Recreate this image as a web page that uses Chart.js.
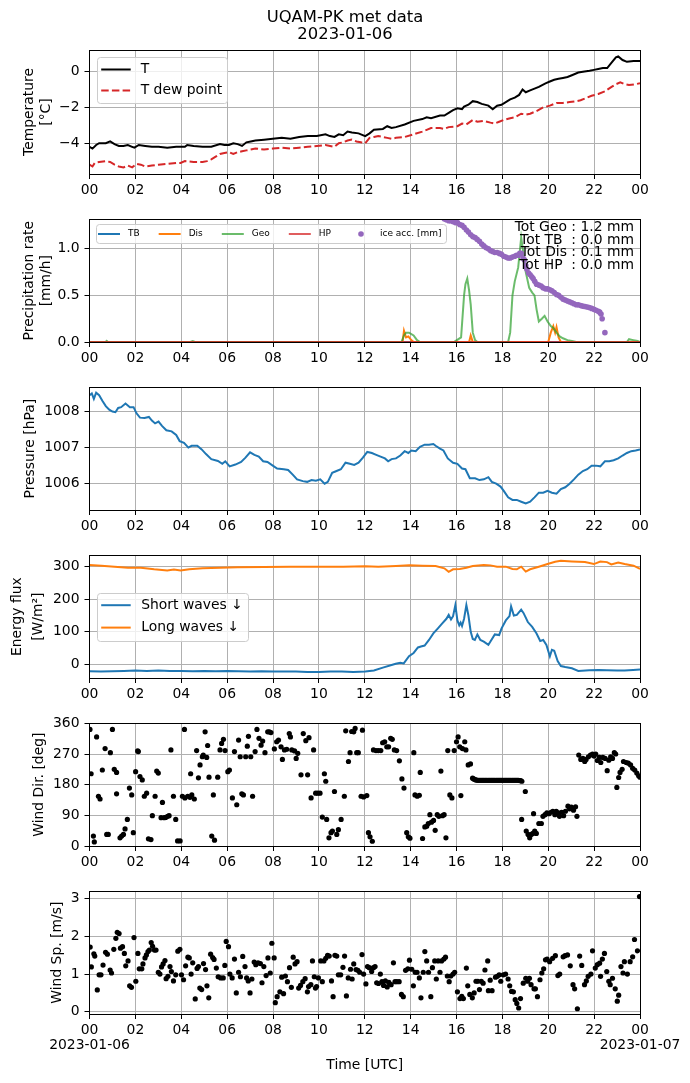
<!DOCTYPE html>
<html>
<head>
    <meta charset="utf-8">
    <title>UQAM-PK met data</title>
    <style>
        body {
            margin: 0;
            padding: 0;
            background-color: #ffffff;
        }

        #page {
            position: relative;
            width: 690px;
            height: 1083px;
        }

        #page canvas {
            position: absolute;
            left: 0;
        }
    </style>
    <script src="https://cdn.jsdelivr.net/npm/chart.js"></script>
</head>
<body>
<div id="page">
    <canvas id="cTemp"></canvas>
    <canvas id="cPrec"></canvas>
    <canvas id="cPres"></canvas>
    <canvas id="cFlux"></canvas>
    <canvas id="cDir"></canvas>
    <canvas id="cSpd"></canvas>
</div>
<script>
// ---- data: [hour UTC, value] ----
const tempPts = [[0,-4.2],[0.13,-4.3],[0.29,-4.1],[0.42,-4.0],[0.71,-4.0],[0.9,-3.9],[1.09,-4.05],[1.28,-4.15],[1.48,-4.15],[1.67,-4.1],[1.86,-4.2],[1.96,-4.25],[2.15,-4.1],[2.43,-4.15],[2.72,-4.2],[3.01,-4.2],[3.39,-4.25],[3.78,-4.2],[4.16,-4.2],[4.26,-4.1],[4.54,-4.15],[4.93,-4.2],[5.31,-4.2],[5.69,-4.05],[5.88,-4.1],[6.08,-4.1],[6.27,-4.0],[6.46,-4.05],[6.65,-4.15],[6.84,-3.95],[7.03,-3.9],[7.23,-3.85],[7.61,-3.8],[7.99,-3.75],[8.38,-3.7],[8.76,-3.75],[9.14,-3.65],[9.52,-3.6],[9.91,-3.6],[10.29,-3.5],[10.48,-3.6],[10.68,-3.65],[10.87,-3.5],[11.06,-3.55],[11.25,-3.35],[11.44,-3.4],[11.73,-3.45],[12.02,-3.6],[12.21,-3.45],[12.4,-3.25],[12.79,-3.2],[12.98,-3.05],[13.17,-3.15],[13.36,-3.1],[13.74,-2.95],[14.13,-2.75],[14.51,-2.65],[14.7,-2.55],[14.89,-2.6],[15.28,-2.45],[15.47,-2.45],[15.66,-2.3],[15.85,-2.15],[16.04,-2.05],[16.24,-2.1],[16.33,-1.95],[16.52,-1.85],[16.71,-1.65],[16.91,-1.7],[17.1,-1.8],[17.39,-1.9],[17.58,-2.1],[17.77,-1.9],[17.96,-1.85],[18.15,-1.7],[18.34,-1.55],[18.54,-1.45],[18.73,-1.3],[18.88,-1.0],[19.02,-1.15],[19.21,-1.05],[19.4,-0.95],[19.59,-0.85],[19.88,-0.65],[20.07,-0.55],[20.26,-0.45],[20.45,-0.4],[20.64,-0.35],[20.84,-0.3],[21.03,-0.2],[21.31,-0.05],[21.51,0.0],[21.8,0.05],[21.99,0.1],[22.18,0.15],[22.38,0.2],[22.57,0.2],[22.76,0.5],[22.95,0.8],[23.05,0.85],[23.24,0.65],[23.43,0.55],[23.72,0.6],[24,0.6]];
const dewPts = [[0,-5.2],[0.13,-5.3],[0.23,-5.1],[0.42,-5.05],[0.71,-5.0],[0.9,-5.05],[1.09,-5.2],[1.28,-5.3],[1.48,-5.35],[1.67,-5.25],[1.86,-5.35],[2.05,-5.15],[2.24,-5.2],[2.43,-5.3],[2.72,-5.25],[3.01,-5.2],[3.39,-5.15],[3.78,-5.1],[3.97,-5.1],[4.16,-5.0],[4.54,-5.05],[4.93,-5.05],[5.12,-5.0],[5.31,-4.9],[5.5,-4.75],[5.69,-4.6],[5.88,-4.55],[6.08,-4.5],[6.27,-4.6],[6.46,-4.5],[6.65,-4.45],[6.84,-4.4],[7.03,-4.35],[7.23,-4.3],[7.61,-4.35],[7.99,-4.3],[8.38,-4.25],[8.76,-4.3],[9.14,-4.25],[9.52,-4.2],[9.91,-4.15],[10.29,-4.1],[10.68,-4.2],[10.87,-4.0],[11.06,-3.95],[11.25,-3.85],[11.44,-3.8],[11.64,-3.9],[11.83,-3.95],[12.02,-4.0],[12.21,-3.7],[12.4,-3.65],[12.59,-3.6],[12.98,-3.7],[13.17,-3.75],[13.36,-3.7],[13.74,-3.65],[14.13,-3.5],[14.51,-3.35],[14.7,-3.25],[14.89,-3.15],[15.28,-3.15],[15.47,-3.2],[15.66,-3.1],[16.04,-3.05],[16.24,-2.9],[16.43,-2.95],[16.71,-2.7],[16.91,-2.8],[17.19,-2.75],[17.48,-2.85],[17.67,-2.9],[17.86,-2.8],[18.06,-2.7],[18.34,-2.6],[18.54,-2.55],[18.82,-2.35],[19.02,-2.4],[19.21,-2.35],[19.49,-2.2],[19.78,-2.0],[20.07,-1.9],[20.36,-1.75],[20.64,-1.75],[20.93,-1.7],[21.22,-1.65],[21.41,-1.6],[21.7,-1.45],[21.89,-1.35],[22.18,-1.25],[22.47,-1.1],[22.76,-0.85],[22.95,-0.7],[23.14,-0.6],[23.33,-0.7],[23.52,-0.75],[23.81,-0.7],[24,-0.65]];

const tbPts = [[0,0],[24,0]];
const disPts = [[0,0],[13.65,0],[13.71,0.12],[13.8,0.05],[13.9,0.06],[14.03,0.02],[14.13,0],[16.55,0],[16.62,0.07],[16.71,0],[20.0,0],[20.11,0.1],[20.22,0.17],[20.3,0.1],[20.36,0.16],[20.45,0.05],[20.55,0],[24,0]];
const geoPts = [[0,0],[0.7,0],[0.75,0.012],[0.8,0],[4.4,0],[4.5,0.01],[4.6,0],[13.6,0],[13.71,0.07],[13.8,0.1],[13.93,0.1],[14.13,0.07],[14.28,0.02],[14.41,0],[15.9,0],[15.95,0.01],[16.2,0.05],[16.33,0.5],[16.39,0.62],[16.47,0.68],[16.55,0.55],[16.62,0.4],[16.71,0.1],[16.81,0.02],[16.91,0],[18.25,0],[18.34,0.1],[18.44,0.5],[18.54,0.65],[18.69,0.8],[18.82,1.12],[18.92,0.95],[19.02,0.75],[19.17,0.58],[19.3,0.53],[19.4,0.5],[19.49,0.35],[19.59,0.22],[19.72,0.25],[19.84,0.28],[19.97,0.22],[20.11,0.17],[20.22,0.15],[20.36,0.1],[20.5,0.06],[20.64,0.04],[20.84,0.02],[21.03,0.01],[21.22,0],[23.43,0],[23.52,0.03],[23.62,0.025],[23.71,0.02],[23.9,0.01],[24,0]];
const hpPts = [[0,0],[24,0]];
const icePts = [[15.4,1.34],[15.47,1.32],[15.56,1.31],[15.66,1.3],[15.75,1.3],[15.85,1.29],[15.95,1.28],[16.04,1.28],[16.14,1.26],[16.24,1.25],[16.33,1.23],[16.43,1.2],[16.52,1.18],[16.62,1.15],[16.71,1.13],[16.81,1.12],[16.9,1.1],[17.0,1.08],[17.1,1.05],[17.19,1.03],[17.29,1.01],[17.39,1.0],[17.48,0.98],[17.58,0.97],[17.67,0.96],[17.77,0.96],[17.87,0.95],[17.96,0.94],[18.06,0.92],[18.15,0.91],[18.25,0.9],[18.34,0.9],[18.44,0.91],[18.54,0.92],[18.62,0.93],[18.69,0.93],[18.76,0.95],[18.82,0.95],[18.9,0.9],[18.96,0.88],[19.02,0.82],[19.07,0.78],[19.14,0.74],[19.21,0.72],[19.28,0.7],[19.34,0.68],[19.41,0.65],[19.49,0.62],[19.59,0.61],[19.69,0.6],[19.78,0.58],[19.88,0.57],[19.97,0.57],[20.07,0.56],[20.16,0.55],[20.26,0.53],[20.36,0.51],[20.45,0.5],[20.55,0.48],[20.64,0.46],[20.74,0.45],[20.84,0.44],[20.93,0.43],[21.03,0.42],[21.12,0.41],[21.22,0.4],[21.31,0.4],[21.41,0.39],[21.5,0.385],[21.6,0.38],[21.7,0.375],[21.79,0.37],[21.89,0.36],[21.99,0.35],[22.08,0.34],[22.18,0.33],[22.24,0.32],[22.3,0.3],[22.35,0.25],[22.47,0.1]];
const totNames = ['Geo', 'TB ', 'Dis', 'HP '];
const totVals = [1.2, 0.0, 0.1, 0.0];

const presPts = [[0,1008.45],[0.1,1008.5],[0.19,1008.35],[0.29,1008.52],[0.42,1008.45],[0.56,1008.3],[0.71,1008.15],[0.86,1008.05],[1.0,1008.0],[1.13,1007.98],[1.25,1008.1],[1.38,1008.12],[1.57,1008.22],[1.76,1008.12],[1.92,1008.12],[2.05,1007.95],[2.2,1007.83],[2.4,1007.82],[2.59,1007.85],[2.72,1007.75],[2.86,1007.67],[3.01,1007.72],[3.16,1007.6],[3.35,1007.48],[3.58,1007.45],[3.78,1007.35],[3.93,1007.18],[4.12,1007.13],[4.31,1007.0],[4.45,1007.05],[4.7,1007.05],[4.89,1006.95],[5.08,1006.82],[5.31,1006.68],[5.6,1006.63],[5.79,1006.55],[5.92,1006.62],[6.11,1006.48],[6.36,1006.53],[6.61,1006.6],[6.8,1006.72],[7.0,1006.87],[7.19,1006.8],[7.38,1006.75],[7.57,1006.62],[7.76,1006.6],[7.99,1006.5],[8.18,1006.42],[8.47,1006.4],[8.66,1006.38],[8.86,1006.25],[9.05,1006.12],[9.3,1006.07],[9.49,1006.05],[9.68,1006.1],[9.87,1006.08],[10.06,1006.12],[10.25,1006.0],[10.39,1006.05],[10.58,1006.3],[10.77,1006.35],[10.96,1006.4],[11.16,1006.58],[11.35,1006.55],[11.54,1006.52],[11.73,1006.58],[11.92,1006.72],[12.11,1006.88],[12.31,1006.85],[12.5,1006.8],[12.69,1006.75],[12.88,1006.7],[13.02,1006.62],[13.17,1006.68],[13.36,1006.7],[13.55,1006.78],[13.74,1006.9],[13.9,1006.85],[14.03,1006.92],[14.22,1006.9],[14.41,1007.02],[14.61,1007.08],[14.8,1007.08],[14.99,1007.1],[15.09,1007.05],[15.28,1006.97],[15.43,1006.92],[15.62,1006.7],[15.85,1006.58],[16.04,1006.55],[16.24,1006.42],[16.39,1006.4],[16.58,1006.15],[16.81,1006.15],[17.0,1006.1],[17.19,1006.12],[17.39,1006.18],[17.54,1006.05],[17.73,1006.0],[17.92,1005.92],[18.06,1005.8],[18.25,1005.62],[18.44,1005.55],[18.63,1005.55],[18.82,1005.5],[19.02,1005.45],[19.21,1005.5],[19.4,1005.62],[19.59,1005.75],[19.78,1005.75],[19.97,1005.8],[20.16,1005.75],[20.36,1005.72],[20.55,1005.85],[20.74,1005.9],[20.93,1006.0],[21.12,1006.12],[21.31,1006.25],[21.51,1006.35],[21.7,1006.4],[21.89,1006.5],[22.08,1006.5],[22.27,1006.48],[22.47,1006.62],[22.66,1006.62],[22.85,1006.65],[23.05,1006.7],[23.24,1006.78],[23.43,1006.85],[23.62,1006.9],[23.81,1006.92],[24,1006.95]];

const swPts = [[0,-21],[0.5,-22],[1.0,-21],[1.5,-20],[2.0,-19],[2.5,-20],[3.0,-19],[3.5,-20],[4.0,-20],[4.5,-21],[5.0,-20],[5.5,-21],[6.0,-20],[6.5,-21],[7.0,-22],[7.5,-21],[8.0,-22],[8.5,-22],[9.0,-22],[9.5,-23],[10.0,-23],[10.5,-22],[11.0,-22],[11.5,-23],[12.02,-22],[12.4,-19],[12.79,-10],[13.17,-2],[13.35,2],[13.55,5],[13.7,3],[13.93,25],[14.13,35],[14.32,52],[14.45,55],[14.61,58],[14.8,75],[14.99,95],[15.18,110],[15.37,125],[15.56,140],[15.66,152],[15.76,138],[15.85,148],[15.95,182],[16.04,135],[16.12,120],[16.18,128],[16.24,118],[16.33,140],[16.43,182],[16.52,150],[16.62,100],[16.71,78],[16.8,75],[16.91,92],[17.04,75],[17.19,70],[17.39,60],[17.48,70],[17.67,92],[17.86,90],[17.96,110],[18.15,135],[18.31,148],[18.38,178],[18.5,150],[18.63,152],[18.82,168],[18.92,158],[19.11,130],[19.3,115],[19.49,95],[19.65,72],[19.78,75],[19.92,60],[20.07,25],[20.16,45],[20.26,42],[20.41,10],[20.55,-5],[20.74,-8],[21.03,-12],[21.31,-20],[21.79,-18],[22.2,-17],[22.56,-18],[23.0,-19],[23.33,-19],[23.7,-17],[24,-16]];
const lwPts = [[0,305],[0.52,303],[1.09,300],[1.67,297],[2.24,297],[2.82,292],[3.39,288],[3.68,291],[3.97,288],[4.35,292],[4.93,295],[5.69,297],[6.46,298],[7.61,299],[8.76,300],[9.91,300],[11.06,300],[12.02,301],[12.59,300],[13.36,302],[13.94,304],[14.51,303],[15.09,302],[15.47,295],[15.66,284],[15.85,292],[16.14,293],[16.43,297],[16.71,302],[17.19,305],[17.48,304],[17.77,300],[18.15,300],[18.44,293],[18.63,292],[18.82,300],[19.02,285],[19.21,292],[19.59,300],[19.97,308],[20.3,315],[20.55,318],[21.03,316],[21.6,314],[21.99,308],[22.27,316],[22.56,314],[22.75,307],[23.05,313],[23.33,308],[23.72,303],[24,293]];

const wdirPts = [[0.02,342],[0.07,212],[0.17,29],[0.21,12],[0.31,320],[0.39,146],[0.46,138],[0.56,223],[0.68,286],[0.75,34],[0.82,34],[0.91,274],[1.0,342],[1.08,225],[1.18,216],[1.18,153],[1.33,24],[1.4,29],[1.48,34],[1.55,50],[1.65,78],[1.74,170],[1.84,150],[1.91,39],[2.01,218],[2.1,279],[2.13,277],[2.2,204],[2.3,194],[2.39,146],[2.49,155],[2.57,21],[2.68,19],[2.74,89],[2.86,146],[2.93,220],[3.0,214],[3.12,83],[3.18,128],[3.26,83],[3.32,84],[3.41,87],[3.47,89],[3.55,282],[3.66,146],[3.76,78],[3.84,15],[3.95,15],
    [4.05,146],[4.14,342],[4.16,141],[4.28,146],[4.38,143],[4.41,212],[4.46,150],[4.57,138],[4.67,280],[4.75,200],[4.82,238],[4.92,262],[4.96,267],[5.04,335],[5.11,260],[5.15,295],[5.21,202],[5.33,29],[5.4,150],[5.45,17],[5.59,202],[5.69,282],[5.76,301],[5.84,313],[5.91,280],
    [6.03,218],[6.1,223],[6.23,141],[6.32,277],[6.42,121],[6.5,311],[6.57,262],[6.64,153],[6.71,150],[6.81,262],[6.88,293],[6.93,322],[7.03,262],[7.11,146],[7.22,277],[7.3,342],[7.39,316],[7.48,296],[7.55,308],[7.65,274],[7.77,335],[7.84,335],[7.91,333],
    [8.06,285],[8.16,306],[8.24,311],[8.35,291],[8.41,254],[8.5,282],[8.6,284],[8.71,330],[8.76,320],[8.82,282],[8.94,279],[9.01,257],[9.08,272],[9.22,209],[9.32,330],[9.43,309],[9.51,209],[9.57,318],[9.66,141],[9.77,282],[9.86,155],[9.95,155],
    [10.05,155],[10.15,85],[10.24,212],[10.3,190],[10.34,78],[10.44,24],[10.53,39],[10.59,44],[10.68,160],[10.78,34],[10.85,48],[10.97,78],[11.11,146],[11.17,338],[11.29,248],[11.36,274],[11.43,336],[11.52,335],[11.58,345],[11.65,274],[11.72,274],[11.84,146],[11.9,340],[11.95,144],
    [12.09,148],[12.16,39],[12.23,27],[12.33,14],[12.38,282],[12.49,280],[12.59,280],[12.7,280],[12.78,303],[12.87,306],[12.96,291],[13.04,291],[13.13,316],[13.2,313],[13.29,282],[13.39,280],[13.51,250],[13.62,197],[13.71,170],[13.83,39],[13.9,27],[13.97,23],
    [14.14,274],[14.19,150],[14.29,146],[14.38,149],[14.42,216],[14.52,22],[14.62,56],[14.7,58],[14.77,66],[14.84,92],[14.91,70],[15.0,75],[15.07,46],[15.16,92],[15.23,87],[15.32,220],[15.39,89],[15.46,92],[15.54,24],[15.62,280],[15.71,150],[15.8,141],[15.9,280],
    [16.0,306],[16.07,320],[16.14,291],[16.19,148],[16.26,286],[16.36,306],[16.41,282],[16.51,238],[16.61,241],[16.7,199],
    [16.75,197],[16.8,195],[16.85,194],[16.9,193],[16.95,193],[17.0,193],[17.05,193],[17.1,193],[17.15,193],[17.2,193],[17.25,193],[17.3,193],[17.35,193],[17.4,193],[17.45,193],[17.5,193],[17.55,193],[17.6,193],[17.65,193],[17.7,193],[17.75,193],[17.8,193],[17.85,193],[17.9,193],[17.95,193],[18.0,193],[18.05,193],[18.1,193],[18.15,193],[18.2,193],[18.25,193],[18.3,193],[18.35,193],[18.4,193],[18.45,193],[18.5,193],[18.55,193],[18.6,193],[18.65,193],[18.7,193],[18.75,192],[18.8,192],[18.85,190],
    [18.84,78],[19.0,160],[19.04,44],[19.12,34],[19.19,24],[19.26,34],[19.33,37],[19.36,95],[19.41,44],[19.48,37],[19.59,66],[19.7,66],[19.77,87],[19.86,92],[19.94,97],[20.03,95],[20.12,99],[20.2,102],[20.29,92],[20.35,102],[20.43,97],[20.49,87],[20.58,99],[20.67,89],[20.75,102],[20.86,117],[20.93,109],[21.01,114],[21.1,105],[21.19,115],[21.25,87],
    [21.33,267],[21.42,254],[21.51,257],[21.59,248],[21.65,254],[21.75,262],[21.84,267],[21.93,270],[22.0,264],[22.07,270],[22.14,251],[22.23,260],[22.29,245],[22.38,260],[22.48,257],[22.57,221],[22.64,252],[22.72,262],[22.8,257],[22.88,274],[22.94,270],[22.99,172],[23.07,201],[23.13,216],[23.22,225],[23.28,248],[23.4,245],[23.49,243],[23.59,238],[23.68,228],[23.77,223],[23.86,214],[23.94,206],[24.0,202]];

const wspdPts = [[0.03,1.72],[0.08,1.19],[0.19,1.54],[0.23,1.48],[0.34,0.58],[0.42,0.98],[0.5,0.98],[0.59,1.24],[0.7,1.58],[0.78,1.53],[0.9,1.11],[0.96,1.03],[1.06,1.66],[1.15,1.95],[1.21,2.11],[1.29,2.08],[1.35,1.69],[1.44,1.73],[1.52,1.55],[1.58,1.22],[1.68,1.35],[1.75,0.69],[1.83,0.65],[1.94,1.97],
    [2.02,0.81],[2.11,1.55],[2.17,1.14],[2.28,1.14],[2.33,1.27],[2.42,1.43],[2.48,1.51],[2.55,1.6],[2.61,1.64],[2.69,1.84],[2.75,1.74],[2.83,1.64],[2.9,1.64],[3.0,1.05],[3.07,1.0],[3.14,1.19],[3.21,1.27],[3.29,1.36],[3.34,0.88],[3.42,0.94],[3.51,1.2],[3.57,1.07],[3.66,0.82],[3.76,0.98],[3.85,1.61],[3.94,1.66],
    [4.01,0.98],[4.1,0.85],[4.19,1.22],[4.29,1.45],[4.35,1.43],[4.43,1.0],[4.5,1.3],[4.61,0.34],[4.69,1.15],[4.75,1.2],[4.81,0.63],[4.89,0.59],[4.97,1.28],[5.06,1.12],[5.12,0.69],[5.2,0.37],[5.28,1.53],[5.37,1.44],[5.43,1.39],[5.53,1.16],[5.61,0.93],[5.72,0.9],[5.83,0.9],[5.9,1.23],
    [5.96,1.87],[6.06,1.73],[6.12,1.0],[6.22,0.9],[6.32,1.4],[6.4,0.5],[6.5,1.05],[6.58,0.93],[6.68,1.47],[6.78,1.2],[6.85,0.9],[6.92,0.82],[7.0,0.5],[7.08,0.87],[7.18,1.32],[7.25,1.25],[7.35,1.3],[7.45,1.28],[7.52,0.77],[7.6,1.2],[7.7,0.96],[7.78,1.43],[7.88,1.03],[7.95,1.82],
    [8.05,1.43],[8.1,0.24],[8.18,0.4],[8.3,0.53],[8.38,0.92],[8.46,0.48],[8.54,0.95],[8.63,0.8],[8.72,1.17],[8.8,0.65],[8.88,1.45],[8.96,1.27],[9.05,1.33],[9.12,0.63],[9.2,0.7],[9.3,0.8],[9.4,0.88],[9.5,0.53],[9.55,0.67],[9.65,0.72],[9.72,1.35],[9.8,0.93],[9.85,0.63],[9.9,0.67],[9.98,0.9],
    [10.08,1.35],[10.15,0.8],[10.22,1.35],[10.3,1.42],[10.38,1.5],[10.45,1.48],[10.55,0.82],[10.62,0.4],[10.7,1.5],[10.78,1.48],[10.85,0.98],[10.95,0.98],[11.05,1.18],[11.12,1.48],[11.2,0.42],[11.28,0.9],[11.38,1.13],[11.45,0.87],[11.52,1.27],[11.62,1.12],[11.7,1.1],[11.78,1.05],[11.88,1.52],[11.95,1.0],
    [12.05,0.74],[12.12,1.2],[12.2,1.17],[12.3,1.07],[12.38,1.17],[12.45,1.2],[12.52,0.77],[12.6,0.75],[12.68,1.0],[12.75,0.8],[12.82,0.7],[12.9,0.82],[12.98,0.66],[13.05,0.78],[13.15,0.72],[13.25,1.3],[13.32,0.8],[13.4,0.8],[13.5,0.8],[13.6,0.46],[13.68,0.4],[13.78,1.1],[13.88,1.14],[13.95,1.37],
    [14.05,1.13],[14.12,0.69],[14.2,1.05],[14.28,1.05],[14.38,0.9],[14.45,0.37],[14.55,1.05],[14.62,1.6],[14.7,1.35],[14.78,1.05],[14.88,0.4],[14.95,1.17],[15.05,1.35],[15.12,0.87],[15.2,1.35],[15.28,1.05],[15.35,1.35],[15.45,1.4],[15.52,1.45],[15.6,0.95],[15.68,0.8],[15.75,0.95],[15.85,1.0],[15.92,1.05],
    [16.04,0.53],[16.15,0.35],[16.23,0.41],[16.3,0.35],[16.43,1.16],[16.49,0.69],[16.58,0.46],[16.69,0.37],[16.77,0.5],[16.85,0.81],[16.93,0.81],[17.0,0.59],[17.08,0.81],[17.16,0.76],[17.24,1.11],[17.36,1.35],[17.39,0.56],[17.47,0.84],[17.55,0.56],[17.7,0.92],[17.78,0.94],[17.86,0.98],[17.93,0.81],
    [18.04,0.98],[18.14,1.0],[18.25,0.87],[18.32,0.69],[18.4,0.54],[18.48,0.53],[18.56,0.32],[18.63,0.22],[18.71,0.1],[18.79,0.35],[18.91,0.76],[19.02,0.89],[19.1,0.81],[19.18,0.89],[19.25,0.72],[19.38,0.61],[19.44,0.61],[19.53,0.4],[19.64,0.85],[19.72,1.03],[19.8,1.14],[19.88,1.38],[19.95,1.4],
    [20.06,1.33],[20.19,1.42],[20.31,1.49],[20.42,0.96],[20.5,1.0],[20.65,1.46],[20.73,1.49],[20.84,1.51],[20.96,1.22],[21.08,0.72],[21.15,0.61],[21.27,0.08],[21.37,1.48],[21.46,1.23],[21.58,0.72],[21.66,0.82],[21.74,0.94],[21.86,1.0],[21.93,1.62],
    [22.05,1.16],[22.14,1.25],[22.24,1.29],[22.28,0.94],[22.36,1.4],[22.45,1.55],[22.55,1.07],[22.64,0.81],[22.7,0.72],[22.8,0.89],[22.92,0.61],[23.01,0.28],[23.07,0.44],[23.17,1.2],[23.26,1.03],[23.32,1.33],[23.45,1.0],[23.57,1.33],[23.68,1.46],[23.76,1.92],[23.89,1.62],[23.98,3.06]];

// ---- tick values / labels ----
const hourTicks = [0, 2, 4, 6, 8, 10, 12, 14, 16, 18, 20, 22, 24];
const dateLabels = ['2023-01-06', '2023-01-07'];
const tempTicks = [-4, -2, 0];
const precTicks = [0, 0.5, 1.0];
const presTicks = [1006, 1007, 1008];
const fluxTicks = [0, 100, 200, 300];
const dirTicks = [0, 90, 180, 270, 360];
const spdTicks = [0, 1, 2, 3];

const FONT = 'DejaVu Sans';
Chart.defaults.font.family = FONT;
Chart.defaults.font.size = 13.9;
Chart.defaults.color = '#000000';

const PLOT_H = 124;
const GRID = '#b0b0b0';

const xy = pts => pts.map(p => ({x: p[0], y: p[1]}));
const hh = v => String(v % 24).padStart(2, '0');
const minus = v => String(v).replace('-', '\u2212');
const crisp = p => Math.round(p - 0.5) + 0.5;

function boxPath(ctx, x, y, w, h, r) {
    ctx.beginPath();
    ctx.moveTo(x + r, y);
    ctx.arcTo(x + w, y, x + w, y + h, r);
    ctx.arcTo(x + w, y + h, x, y + h, r);
    ctx.arcTo(x, y + h, x, y, r);
    ctx.arcTo(x, y, x + w, y, r);
    ctx.closePath();
}

// black frame on all four sides of the axes
const frame = {
    id: 'frame',
    afterDatasetsDraw(chart) {
        const {ctx, chartArea: a} = chart;
        const l = crisp(a.left), r = crisp(a.right), t = crisp(a.top), b = crisp(a.bottom);
        ctx.save();
        ctx.strokeStyle = '#000000';
        ctx.lineWidth = 1;
        ctx.strokeRect(l, t, r - l, b - t);
        ctx.restore();
    }
};

// matplotlib-like legend box inside the axes
const mplLegend = {
    id: 'mplLegend',
    afterDraw(chart, args, o) {
        if (!o || !o.show) return;
        const {ctx, chartArea: a} = chart;
        const ds = chart.data.datasets;
        ctx.save();
        ctx.font = o.size + 'px "' + FONT + '"';
        const widths = ds.map(d => ctx.measureText(d.label).width);
        const x0 = crisp(a.left + o.dx), y0 = crisp(a.top + o.dy);
        let w, h;
        if (o.row) {
            w = o.padL + o.padR;
            ds.forEach((d, i) => { w += o.handle + o.gap + widths[i] + (i < ds.length - 1 ? o.colGap : 0); });
            h = o.padT + o.padB;
        } else {
            w = o.padL + o.handle + o.gap + Math.max(...widths) + o.padR;
            h = o.padT + o.rowH * (ds.length - 1) + o.padB;
        }
        boxPath(ctx, x0, y0, Math.round(w), Math.round(h), 3);
        ctx.fillStyle = 'rgba(255,255,255,0.8)';
        ctx.fill();
        ctx.strokeStyle = '#cccccc';
        ctx.lineWidth = 1;
        ctx.stroke();

        let cx = x0 + o.padL, cy = y0 + o.padT;
        ds.forEach((d, i) => {
            if (d.showLine === false) {
                ctx.fillStyle = d.pointBackgroundColor;
                ctx.beginPath();
                ctx.arc(cx + o.handle / 2, cy, d.pointRadius, 0, Math.PI * 2);
                ctx.fill();
            } else {
                ctx.strokeStyle = d.borderColor;
                ctx.lineWidth = d.borderWidth;
                ctx.setLineDash(d.borderDash || []);
                ctx.beginPath();
                ctx.moveTo(cx, cy);
                ctx.lineTo(cx + o.handle, cy);
                ctx.stroke();
                ctx.setLineDash([]);
            }
            ctx.fillStyle = '#000000';
            ctx.textAlign = 'left';
            ctx.textBaseline = 'middle';
            ctx.fillText(d.label, cx + o.handle + o.gap, cy);
            if (o.row) cx += o.handle + o.gap + widths[i] + o.colGap;
            else cy += o.rowH;
        });
        ctx.restore();
    }
};

// free text (figure title, totals)
const notes = {
    id: 'notes',
    afterDraw(chart, args, o) {
        if (!o || !o.items) return;
        const {ctx, chartArea: a} = chart;
        ctx.save();
        ctx.fillStyle = '#000000';
        ctx.textBaseline = 'middle';
        o.items.forEach(n => {
            ctx.font = n.size + 'px "' + FONT + '"';
            ctx.textAlign = n.align;
            const x = n.rel ? a.right + n.x : n.x;
            const y = n.rel ? a.top + n.y : n.y;
            ctx.fillText(n.text, x, y);
        });
        ctx.restore();
    }
};

function xScale(bottomSpace, last) {
    return {
        type: 'linear',
        min: 0,
        max: 24,
        afterBuildTicks: s => { s.ticks = hourTicks.map(v => ({value: v})); },
        afterFit: s => { s.height = bottomSpace; },
        ticks: {
            autoSkip: false,
            maxRotation: 0,
            padding: 3.4,
            font: {size: 13.9, lineHeight: 1.1},
            callback: v => {
                if (last && v === 0) return [hh(v), dateLabels[0]];
                if (last && v === 24) return [hh(v), dateLabels[1]];
                return hh(v);
            }
        },
        grid: {color: GRID, lineWidth: 1, tickColor: '#000000', tickLength: 5, tickWidth: 1},
        border: {display: false},
        title: last ? {display: true, text: 'Time [UTC]', font: {size: 13.9, lineHeight: 1.2}, padding: {top: 0, bottom: 9.7}} : {display: false}
    };
}

function yScale(min, max, ticks, fmt, title, lh, padTop) {
    return {
        type: 'linear',
        min: min,
        max: max,
        afterBuildTicks: s => { s.ticks = ticks.map(v => ({value: v})); },
        afterFit: s => { s.width = 89.5; },
        ticks: {padding: 5, callback: fmt},
        grid: {color: GRID, lineWidth: 1, tickColor: '#000000', tickLength: 5, tickWidth: 1},
        border: {display: false},
        title: {display: true, text: title, font: {size: 13.9, lineHeight: lh}, padding: {top: padTop, bottom: 0}}
    };
}

function panel(id, type, plotTop, padTop, bottomSpace, datasets, y, plugins, last) {
    const cv = document.getElementById(id);
    cv.width = 690;
    cv.height = padTop + PLOT_H + bottomSpace;
    cv.style.top = (plotTop - padTop) + 'px';
    return new Chart(cv, {
        type: type,
        data: {datasets: datasets},
        options: {
            responsive: false,
            animation: false,
            layout: {padding: {left: 0, right: 50, top: padTop, bottom: 0}},
            scales: {x: xScale(bottomSpace, last), y: y},
            plugins: Object.assign({legend: {display: false}, tooltip: {enabled: false}}, plugins)
        },
        plugins: [frame, mplLegend, notes]
    });
}

const line = (label, pts, color, extra) => Object.assign({
    label: label, data: xy(pts), borderColor: color, backgroundColor: color,
    borderWidth: 2, pointRadius: 0, fill: false, tension: 0
}, extra || {});

// 1 temperature
panel('cTemp', 'line', 50, 50, 36, [
    line('T', tempPts, '#000000', {order: 1}),
    line('T dew point', dewPts, '#d62728', {borderDash: [7.5, 3.2], order: 0})
], yScale(-5.72, 1.21, tempTicks, v => minus(v), ['Temperature', '[°C]'], 1.2, 21.2), {
    mplLegend: {show: true, dx: 7.8, dy: 7.3, size: 13.9, handle: 29.5, gap: 10, rowH: 21, padL: 3.7, padR: 5, padT: 12, padB: 13},
    notes: {items: [
        {text: 'UQAM-PK met data', x: 345, y: 17.8, size: 16.4, align: 'center'},
        {text: '2023-01-06', x: 345, y: 34.3, size: 16.4, align: 'center'}
    ]}
});

// 2 precipitation
panel('cPrec', 'line', 218, 12, 36, [
    line('TB', tbPts, '#1f77b4', {order: 4}),
    line('Dis', disPts, '#ff7f0e', {order: 3}),
    line('Geo', geoPts, 'rgba(44,160,44,0.7)', {order: 2}),
    line('HP', hpPts, 'rgba(214,39,40,0.75)', {order: 1}),
    {label: 'ice acc. [mm]', data: xy(icePts), showLine: false, pointRadius: 2.8, pointBorderWidth: 0,
     pointBackgroundColor: '#9467bd', backgroundColor: '#9467bd', borderColor: '#9467bd', order: 0}
], yScale(0, 1.315, precTicks, v => v.toFixed(1), ['Precipitation rate', '[mm/h]'], 1.2, 21.2), {
    mplLegend: {show: true, row: true, dx: 6.5, dy: 5, size: 9, handle: 22, gap: 8, colGap: 19, padL: 1.5, padR: 5, padT: 9.5, padB: 9.5},
    notes: {items: totNames.map((n, i) => ({
        text: 'Tot ' + n + ' : ' + totVals[i].toFixed(1) + ' mm', x: -6, y: 8.5 + i * 12.4, size: 13.9, align: 'right', rel: true
    }))}
});

// 3 pressure
panel('cPres', 'line', 386, 12, 36, [
    line('P', presPts, '#1f77b4')
], yScale(1005.27, 1008.67, presTicks, v => String(v), 'Pressure [hPa]', 1.2, 21.7), {});

// 4 radiation
panel('cFlux', 'line', 554, 12, 36, [
    line('Short waves \u2193', swPts, '#1f77b4', {order: 1}),
    line('Long waves \u2193', lwPts, '#ff7f0e', {order: 0})
], yScale(-41.8, 334.8, fluxTicks, v => String(v), ['Energy flux', '[W/m\u00b2]'], 1.51, 6.5), {
    mplLegend: {show: true, dx: 7.8, dy: 37.7, size: 13.9, handle: 29.5, gap: 10.5, rowH: 22.4, padL: 3.7, padR: 6, padT: 11.7, padB: 13.5}
});

// 5 wind direction
panel('cDir', 'scatter', 722, 12, 36, [
    {label: 'dir', data: xy(wdirPts), pointRadius: 2.6, pointBorderWidth: 0, pointBackgroundColor: '#000000', backgroundColor: '#000000'}
], yScale(0, 360, dirTicks, v => String(v), 'Wind Dir. [deg]', 1.2, 31.2), {});

// 6 wind speed
panel('cSpd', 'scatter', 890, 12, 69, [
    {label: 'spd', data: xy(wspdPts), pointRadius: 2.6, pointBorderWidth: 0, pointBackgroundColor: '#000000', backgroundColor: '#000000'}
], yScale(-0.06, 3.2, spdTicks, v => String(v), 'Wind Sp. [m/s]', 1.2, 48.7), {}, true);
</script>
</body>
</html>
